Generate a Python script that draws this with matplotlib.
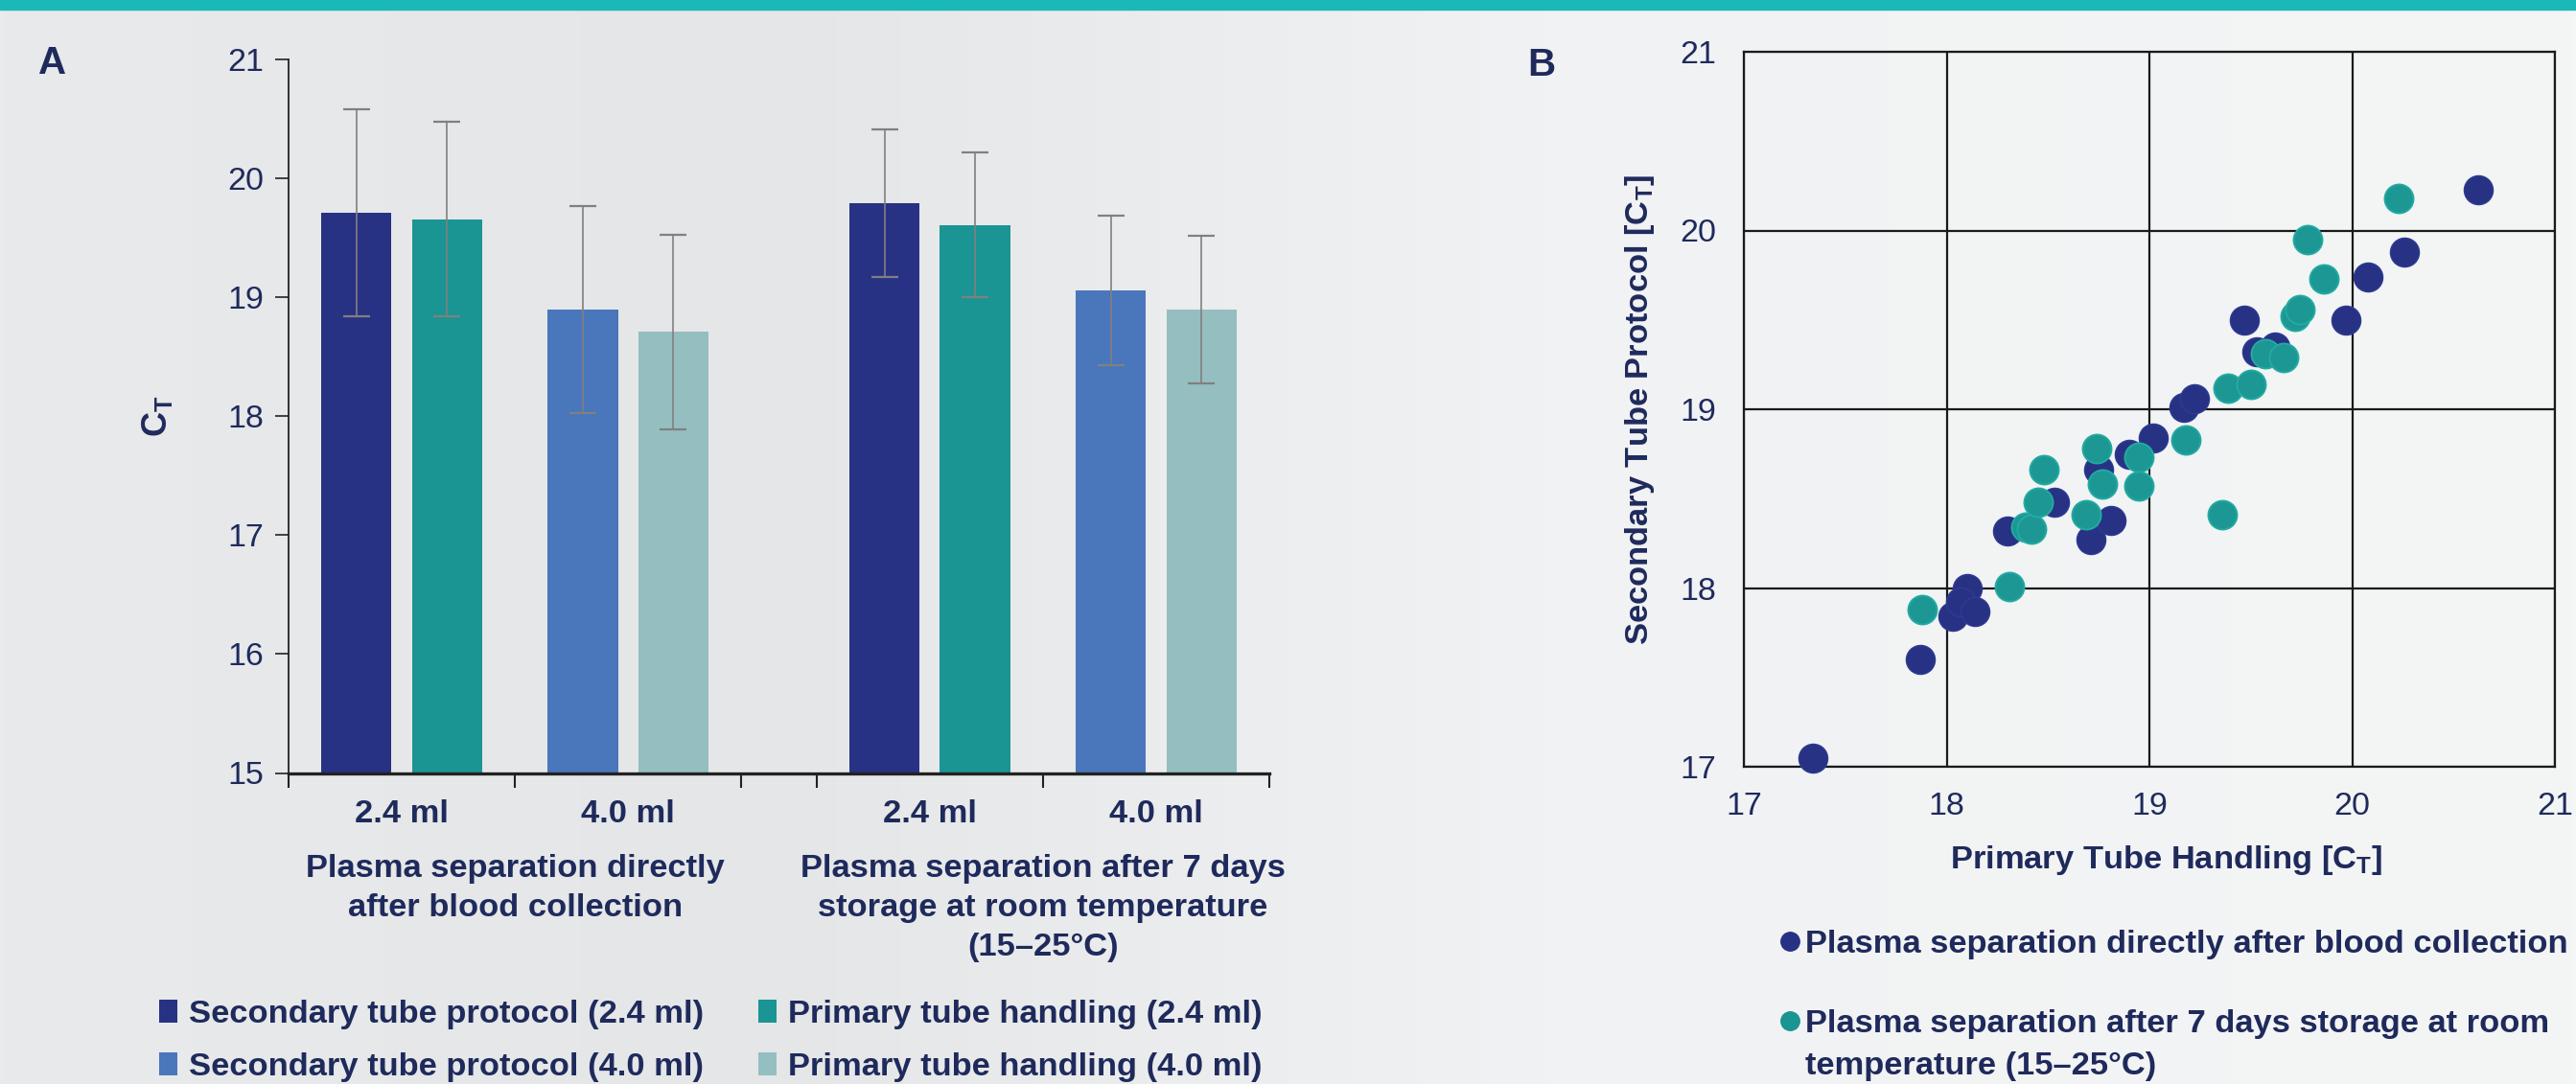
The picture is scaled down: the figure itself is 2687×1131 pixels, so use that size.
import numpy as np
import matplotlib.pyplot as plt
from matplotlib.patches import Rectangle
from matplotlib.lines import Line2D

# ---- panel A: mean Ct per tube volume and storage condition ----
volumes = ['2.4 ml', '4.0 ml', '2.4 ml', '4.0 ml']
conditions = ['Plasma separation directly\nafter blood collection',
              'Plasma separation after 7 days\nstorage at room temperature\n(15–25°C)']
secondary_ct = [19.71, 18.90, 19.79, 19.06]
secondary_sd = [0.87, 0.87, 0.62, 0.63]
primary_ct = [19.66, 18.71, 19.61, 18.90]
primary_sd = [0.82, 0.82, 0.61, 0.62]

# ---- panel B: per sample Ct, primary vs secondary tube ----
direct_primary = [17.34, 17.87, 18.03, 18.10, 18.07, 18.14, 18.30, 18.53, 18.71, 18.81, 18.75,
                  18.90, 19.02, 19.17, 19.22, 19.47, 19.53, 19.62, 19.97, 20.08, 20.26, 20.62]
direct_secondary = [17.05, 17.60, 17.84, 18.00, 17.92, 17.87, 18.32, 18.48, 18.27, 18.38, 18.66,
                    18.75, 18.84, 19.01, 19.06, 19.50, 19.32, 19.35, 19.50, 19.74, 19.88, 20.23]
stored_primary = [17.88, 18.31, 18.39, 18.42, 18.45, 18.48, 18.69, 18.74, 18.77, 18.95, 18.95,
                  19.18, 19.36, 19.39, 19.50, 19.57, 19.66, 19.72, 19.74, 19.86, 19.78, 20.23]
stored_secondary = [17.88, 18.01, 18.34, 18.33, 18.48, 18.66, 18.41, 18.78, 18.58, 18.73, 18.57,
                    18.83, 18.41, 19.12, 19.14, 19.31, 19.29, 19.52, 19.56, 19.73, 19.95, 20.18]

NAVY_TXT = '#1f2a5c'
NAVY = '#283284'
TEAL = '#1b9494'
BLUE = '#4a76bb'
PALE = '#95bec0'
FS = 24.8  # bold label size
FONT = ['Liberation Sans', 'DejaVu Sans']
plt.rcParams['font.family'] = FONT
plt.rcParams['mathtext.default'] = 'regular'

W, H = 2687, 1131
fig = plt.figure(figsize=(W / 100, H / 100), dpi=100)

# background gradient + top stripe
bg = fig.add_axes([0, 0, 1, 1], zorder=-10)
xs = np.linspace(0, 1, 600)
stops = [0, 0.3, 0.6, 1]
cols = np.array([[232, 234, 235], [228, 230, 231], [241, 242, 243], [244, 245, 245]]) / 255
img = np.stack([np.interp(xs, stops, cols[:, i]) for i in range(3)], axis=-1)[None, :, :]
bg.imshow(img, aspect='auto', extent=[0, 1, 0, 1])
bg.axis('off')
fig.patches.append(Rectangle((0, 1 - 10 / H), 1, 10 / H, transform=fig.transFigure,
                             color='#1ab8b9', zorder=5))

# ---------------- panel A ----------------
ax = fig.add_axes([301 / W, 1 - 806.5 / H, 1023 / W, 744.2 / H])
ax.patch.set_alpha(0)
centers = np.array([0.5, 1.5, 2.833, 3.833])
off, bw = 0.2, 0.31
vol_sec = [NAVY, BLUE, NAVY, BLUE]
vol_pri = [TEAL, PALE, TEAL, PALE]
ax.bar(centers - off, secondary_ct, bw, color=vol_sec, zorder=2)
ax.bar(centers + off, primary_ct, bw, color=vol_pri, zorder=2)
for xx, yy, ee in [(centers - off, secondary_ct, secondary_sd), (centers + off, primary_ct, primary_sd)]:
    ax.errorbar(xx, yy, yerr=ee, fmt='none', ecolor='#808080', elinewidth=1.2,
                capsize=10, capthick=1.6, zorder=3)
ax.set_xlim(0, 4.333)
ax.set_ylim(15, 21)
ax.set_yticks(range(15, 22))
ax.tick_params(axis='y', direction='out', length=10, width=1.2, color='#222222',
               labelcolor=NAVY_TXT, labelsize=24.5, pad=8.5)
ax.set_xticks([0, 1, 2, 2.333, 3.333, 4.333])
ax.set_xticklabels([])
ax.tick_params(axis='x', which='major', direction='out', length=11, width=1.5, color='#222222')
ax.set_xticks(centers, volumes, minor=True)
ax.tick_params(axis='x', which='minor', length=0, pad=20, labelsize=FS, labelcolor=NAVY_TXT)
for lbl in ax.get_xticklabels(minor=True):
    lbl.set_fontweight('bold')
for s in ['top', 'right']:
    ax.spines[s].set_visible(False)
ax.spines['left'].set_linewidth(1.3)
ax.spines['left'].set_color('#222222')
ax.spines['bottom'].set_linewidth(2.4)
ax.spines['bottom'].set_color('#222222')
ax.set_ylabel('C$_T$', fontsize=26, fontweight='bold', color=NAVY_TXT)
ax.yaxis.set_label_coords((182 - 301) / 1023, 0.5)
tr = ax.get_xaxis_transform()
ax.text(centers[:2].mean(), -0.113, conditions[0], transform=tr, ha='center', va='top',
        fontsize=FS, fontweight='bold', color=NAVY_TXT, linespacing=1.42)
ax.text(centers[2:].mean(), -0.113, conditions[1], transform=tr, ha='center', va='top',
        fontsize=FS, fontweight='bold', color=NAVY_TXT, linespacing=1.42)
fig.text(55 / W, 1 - 66 / H, 'A', fontsize=29, fontweight='bold', color=NAVY_TXT,
         ha='center', va='center')

def sq(c):
    return Rectangle((0, 0), 1, 1, fc=c, ec='none')

leg_kw = dict(frameon=False, handlelength=0.55, handleheight=0.7,
              handletextpad=0.35, labelspacing=0.7, borderpad=0, borderaxespad=0,
              labelcolor=NAVY_TXT, prop={'weight': 'bold', 'size': FS})
fig.legend([sq(NAVY), sq(BLUE)],
           ['Secondary tube protocol (2.4 ml)', 'Secondary tube protocol (4.0 ml)'],
           loc='upper left', bbox_to_anchor=(166 / W, 1 - 1043 / H), **leg_kw)
fig.legend([sq(TEAL), sq(PALE)],
           ['Primary tube handling (2.4 ml)', 'Primary tube handling (4.0 ml)'],
           loc='upper left', bbox_to_anchor=(791 / W, 1 - 1043 / H), **leg_kw)

# ---------------- panel B ----------------
bx = fig.add_axes([1819 / W, 1 - 800 / H, 846 / W, 746 / H])
bx.patch.set_alpha(0)
bx.scatter(direct_primary, direct_secondary, s=470, c=NAVY, edgecolors='#2d3b92',
           linewidths=1, zorder=3, clip_on=False)
bx.scatter(stored_primary, stored_secondary, s=470, c='#1d9794', edgecolors='#22aca3',
           linewidths=1.3, zorder=4, clip_on=False)
bx.set_xlim(17, 21)
bx.set_ylim(17, 21)
bx.set_xticks(range(17, 22))
bx.set_yticks(range(17, 22))
bx.grid(True, color='#1a1a1a', linewidth=1.6, zorder=1)
bx.set_axisbelow(True)
for s in bx.spines.values():
    s.set_linewidth(1.6)
    s.set_color('#1a1a1a')
bx.tick_params(axis='both', length=0, labelsize=24.5, labelcolor=NAVY_TXT)
bx.tick_params(axis='x', pad=19)
bx.tick_params(axis='y', pad=21)
bx.set_ylabel('Secondary Tube Protocol [C$_T$]', fontsize=FS, fontweight='bold', color=NAVY_TXT)
bx.yaxis.set_label_coords((1728 - 1819) / 846, 0.5)
bx.set_xlabel('Primary Tube Handling [C$_T$]', fontsize=FS, fontweight='bold', color=NAVY_TXT)
bx.xaxis.set_label_coords((2260 - 1819) / 846, (800 - 880) / 746)
fig.text(1608 / W, 1 - 68 / H, 'B', fontsize=29, fontweight='bold', color=NAVY_TXT,
         ha='center', va='center')

dot = lambda c: Line2D([], [], marker='o', ls='none', markersize=14, mfc=c, mec=c)
fig.legend([dot(NAVY), dot(TEAL)],
           ['Plasma separation directly after blood collection',
            'Plasma separation after 7 days storage at room'],
           loc='upper left', bbox_to_anchor=(1857 / W, 1 - 970 / H), frameon=False,
           handlelength=0.6, handletextpad=0.15, labelspacing=1.5, borderpad=0,
           borderaxespad=0, labelcolor=NAVY_TXT, prop={'weight': 'bold', 'size': FS})
fig.text(1883 / W, 1 - 1113 / H, 'temperature (15–25°C)', fontsize=FS, fontweight='bold',
         color=NAVY_TXT, ha='left', va='center')

fig.savefig('out.png', dpi=100)
